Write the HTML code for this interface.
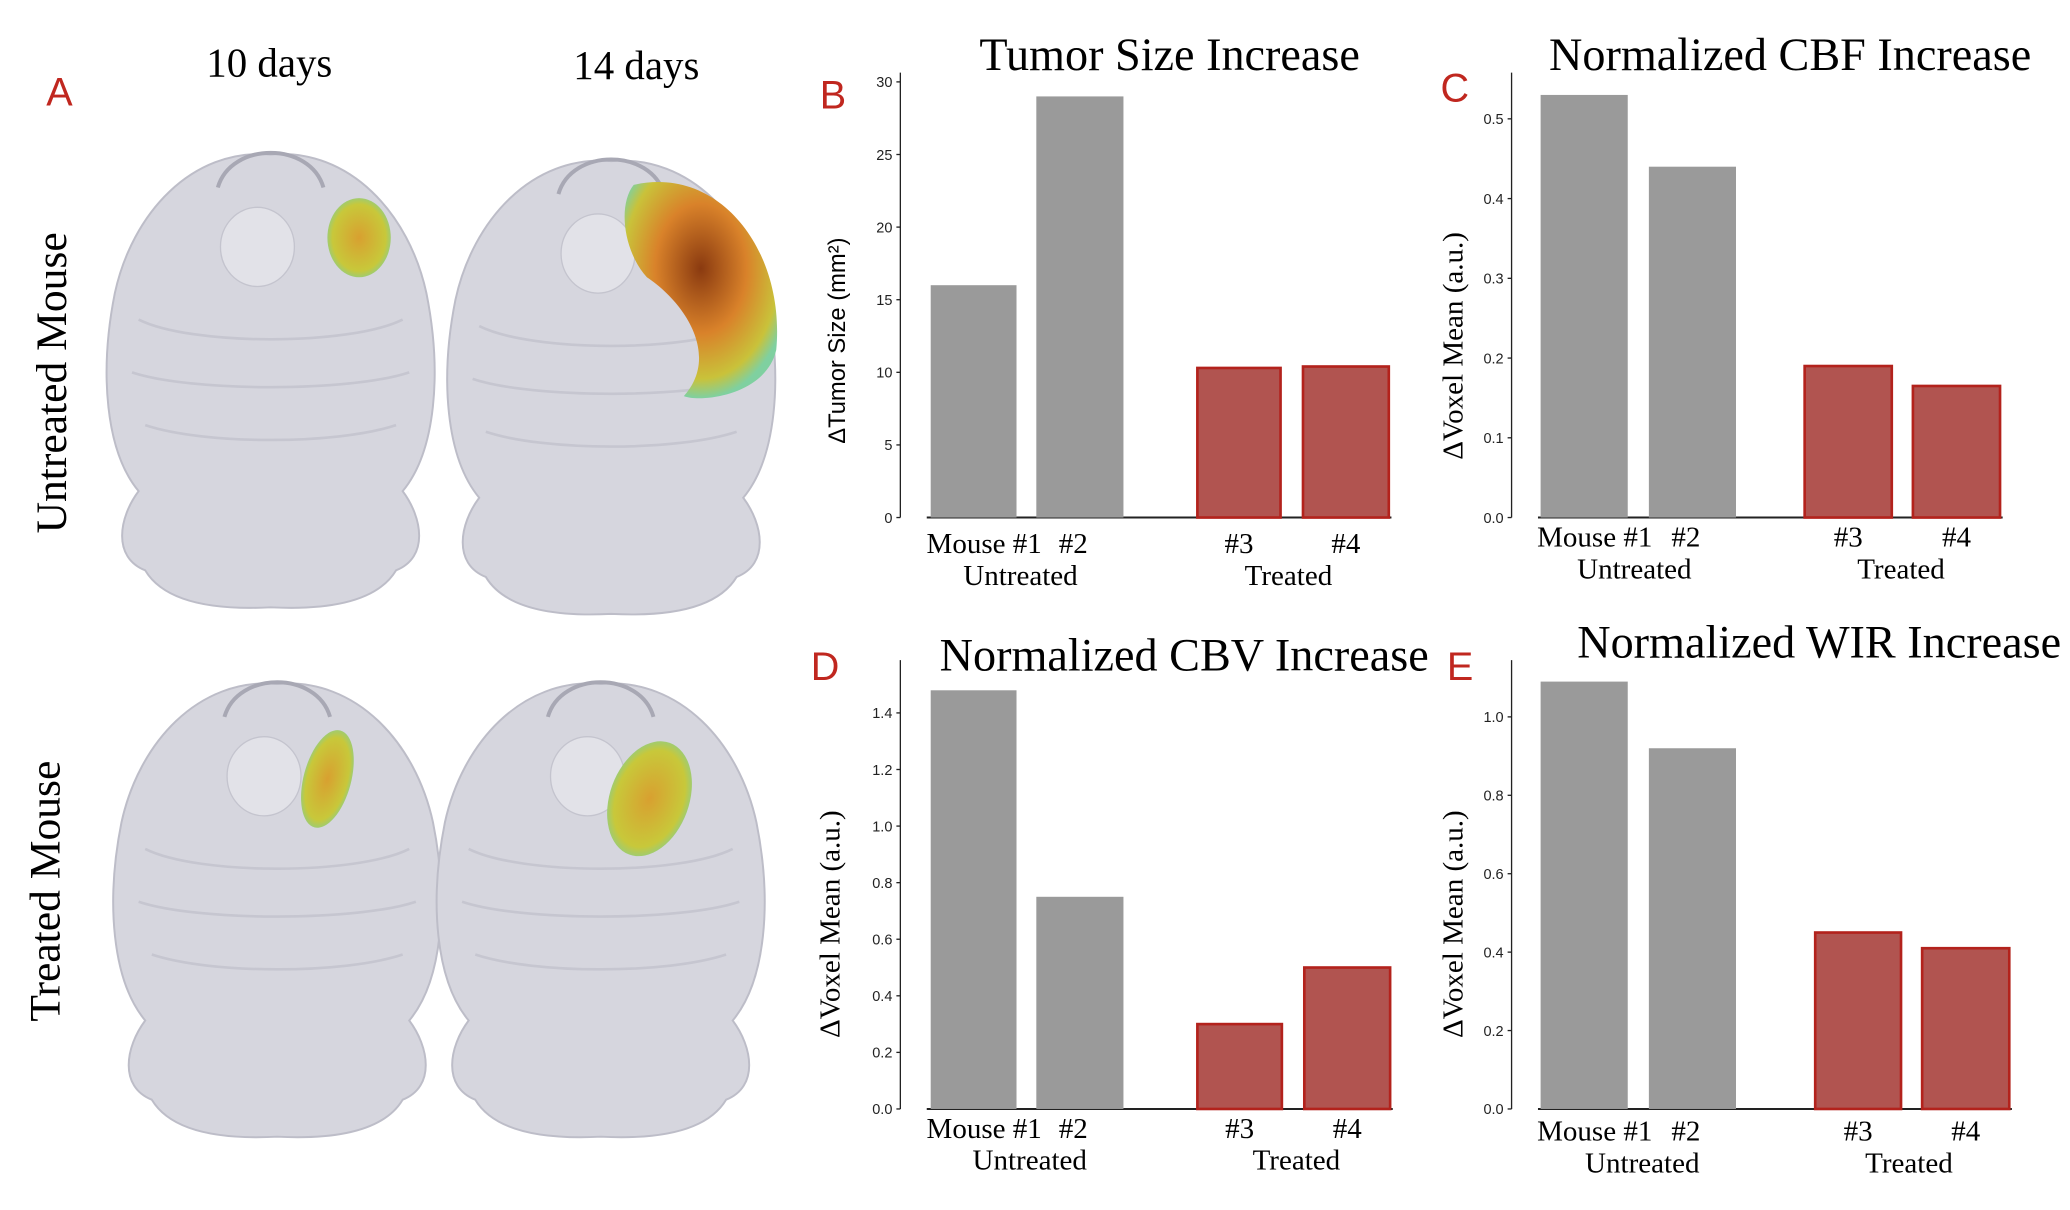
<!DOCTYPE html>
<html><head><meta charset="utf-8"><style>
html,body{margin:0;padding:0;background:#fff;}
svg{display:block;}
.serif{font-family:"Liberation Serif",serif;}
.sans{font-family:"Liberation Sans",sans-serif;}
.tick{font-family:"Liberation Sans",sans-serif;font-size:11px;fill:#222;}
</style></head><body>
<svg id="fig" width="2070" height="1210" viewBox="0 0 1568 916.5">
<defs>
<radialGradient id="tumorBig" cx="50%" cy="40%" r="60%"><stop offset="0" stop-color="#8a3a10"/><stop offset="0.5" stop-color="#d9822a"/><stop offset="0.85" stop-color="#c9c23a"/><stop offset="1" stop-color="#7fd0a0"/></radialGradient>
<radialGradient id="tumorSm" cx="50%" cy="50%" r="60%"><stop offset="0" stop-color="#d8a030"/><stop offset="0.7" stop-color="#c8c83a"/><stop offset="1" stop-color="#70d0b0"/></radialGradient>
<g id="brain">
<path d="M0,-165 C60,-170 105,-120 118,-60 C130,0 125,60 100,90 C115,110 120,140 95,150 C80,175 40,180 0,178 C-40,180 -80,175 -95,150 C-120,140 -115,110 -100,90 C-125,60 -130,0 -118,-60 C-105,-120 -60,-170 0,-165 Z" fill="#d6d6de" stroke="#bdbdc8" stroke-width="1.5"/>
<path d="M-40,-140 C-30,-175 30,-175 40,-140" fill="none" stroke="#a8a8b4" stroke-width="3"/>
<ellipse cx="-10" cy="-95" rx="28" ry="30" fill="#e2e2e8" stroke="#c4c4ce"/>
<path d="M-100,-40 C-60,-20 60,-20 100,-40 M-105,0 C-60,15 60,15 105,0 M-95,40 C-50,55 50,55 95,40" fill="none" stroke="#c6c6d0" stroke-width="2"/>
</g>
</defs>
<g>
<text x="45" y="80" class="sans" font-size="30" fill="#c0271f" text-anchor="middle">A</text>
<text x="204" y="58" class="serif" font-size="31" text-anchor="middle">10 days</text>
<text x="482" y="60" class="serif" font-size="31" text-anchor="middle">14 days</text>
<text transform="translate(50,290) rotate(-90)" class="serif" font-size="33" text-anchor="middle">Untreated Mouse</text>
<text transform="translate(45,675) rotate(-90)" class="serif" font-size="33" text-anchor="middle">Treated Mouse</text>
<use href="#brain" x="205" y="282"/>
<use href="#brain" x="463" y="287"/>
<use href="#brain" x="210" y="683"/>
<use href="#brain" x="455" y="683"/>
<ellipse cx="272" cy="180" rx="24" ry="30" fill="url(#tumorSm)"/>
<path d="M480,140 C545,125 595,190 588,265 C580,300 530,305 518,300 C545,270 520,230 490,210 C472,190 468,155 480,140 Z" fill="url(#tumorBig)"/>
<ellipse cx="248" cy="590" rx="18" ry="38" transform="rotate(15 248 590)" fill="url(#tumorSm)"/>
<ellipse cx="492" cy="605" rx="30" ry="45" transform="rotate(20 492 605)" fill="url(#tumorSm)"/>
</g>
<g id="charts"></g>
</svg>
<script>
const categories = ["Mouse #1","#2","#3","#4"];
const tumorValues = [16, 29, 10.3, 10.4];
const tumorTicks = [0,5,10,15,20,25,30];
const cbfValues = [0.53, 0.44, 0.19, 0.165];
const cbfTicks = [0.0,0.1,0.2,0.3,0.4,0.5];
const cbvValues = [1.48, 0.75, 0.30, 0.50];
const cbvTicks = [0.0,0.2,0.4,0.6,0.8,1.0,1.2,1.4];
const wirValues = [1.09, 0.92, 0.45, 0.41];
const wirTicks = [0.0,0.2,0.4,0.6,0.8,1.0];
const groupLabels = ["Untreated","Treated"];

const NS="http://www.w3.org/2000/svg";
const root=document.getElementById('charts');
function mk(tag,attrs,parent){const e=document.createElementNS(NS,tag);for(const k in attrs)e.setAttribute(k,attrs[k]);parent.appendChild(e);return e;}

function panel(cfg){
  const g=mk('g',{},root);
  
  
  const y=v=>cfg.y0-(v-cfg.t0)/(cfg.t1-cfg.t0)*(cfg.y0-cfg.yt1);
  const ax=mk('line',{x1:cfg.ax,x2:cfg.ax,y1:cfg.top,y2:cfg.y0,stroke:'#222','stroke-width':1},g);
  
  
  const base=mk('line',{x1:cfg.ax+20,x2:cfg.bars[3][1]+2,y1:cfg.y0,y2:cfg.y0,stroke:'#222','stroke-width':1.5},g);
  
  
  cfg.ticks.forEach(t=>{
    const yy=y(t);
    mk('line',{x1:cfg.ax-3,x2:cfg.ax,y1:yy,y2:yy,stroke:'#222'},g);
    const tx=mk('text',{x:cfg.ax-6,y:yy+4,'text-anchor':'end',class:'tick'},g);
    tx.textContent=cfg.fmt(t);
    
    
  });
  cfg.values.forEach((v,i)=>{
    const [x1,x2]=cfg.bars[i];
    const red=i>=2;
    const r=mk('rect',{x:x1,y:y(v),width:x2-x1,height:cfg.y0-y(v),fill:red?'#b15450':'#9a9a9a',stroke:red?'#b3221c':'none','stroke-width':red?2:0},g);
    
    
    const lx=i===0?(x1+x2)/2+8:(x1+x2)/2+(i===1?-5:0);
    const l=mk('text',{x:lx,y:cfg.labY,'text-anchor':'middle','font-size':22,class:'serif'},g);
    l.textContent=categories[i];
    
    
  });
  groupLabels.forEach((gl,i)=>{
    const t=mk('text',{x:cfg.grpX[i],y:cfg.labY+24,'text-anchor':'middle','font-size':22,class:'serif'},g);
    t.textContent=gl;
    
    
  });
  const ti=mk('text',{x:cfg.titleX,y:cfg.titleY,'text-anchor':'middle','font-size':35,class:'serif'},g);
  ti.textContent=cfg.title;
  
  
  const yl=mk('text',{transform:`translate(${cfg.ylX},${cfg.ylY}) rotate(-90)`,'text-anchor':'middle','font-size':cfg.ylSans?18:22,class:cfg.ylSans?'sans':'serif'},g);
  yl.textContent=cfg.ylabel;
  
  
  const pl=mk('text',{x:cfg.letter[0],y:cfg.letter[1],'font-size':30,class:'sans',fill:'#c0271f','text-anchor':'middle'},g);
  pl.textContent=cfg.letterT;
  
  
}
const f0=t=>String(t), f1=t=>t.toFixed(1);
panel({name:'tumor-size-chart',values:tumorValues,ticks:tumorTicks,fmt:f0,t0:0,t1:30,y0:392,yt1:62,top:55,ax:682,
  bars:[[705,770],[785,851],[907,970],[987,1052]],labY:419,grpX:[773,976],title:'Tumor Size Increase',titleX:886,titleY:53,
  ylabel:'\u0394Tumor Size (mm\u00B2)',ylSans:true,ylX:640,ylY:258,letter:[631,82],letterT:'B'});
panel({name:'cbf-chart',values:cbfValues,ticks:cbfTicks,fmt:f1,t0:0,t1:0.5,y0:392,yt1:90,top:55,ax:1145,
  bars:[[1167,1233],[1249,1315],[1367,1433],[1449,1515]],labY:414,grpX:[1238,1440],title:'Normalized CBF Increase',titleX:1356,titleY:53,
  ylabel:'\u0394Voxel Mean (a.u.)',ylX:1108,ylY:262,letter:[1102,77],letterT:'C'});
panel({name:'cbv-chart',values:cbvValues,ticks:cbvTicks,fmt:f1,t0:0,t1:1.4,y0:840,yt1:540,top:500,ax:682,
  bars:[[705,770],[785,851],[907,971],[988,1053]],labY:862,grpX:[780,982],title:'Normalized CBV Increase',titleX:897,titleY:508,
  ylabel:'\u0394Voxel Mean (a.u.)',ylX:636,ylY:700,letter:[625,515],letterT:'D'});
panel({name:'wir-chart',values:wirValues,ticks:wirTicks,fmt:f1,t0:0,t1:1.0,y0:840,yt1:543,top:500,ax:1145,
  bars:[[1167,1233],[1249,1315],[1375,1440],[1456,1522]],labY:864,grpX:[1244,1446],title:'Normalized WIR Increase',titleX:1378,titleY:498,
  ylabel:'\u0394Voxel Mean (a.u.)',ylX:1108,ylY:700,letter:[1106,515],letterT:'E'});
</script>
</body></html>
